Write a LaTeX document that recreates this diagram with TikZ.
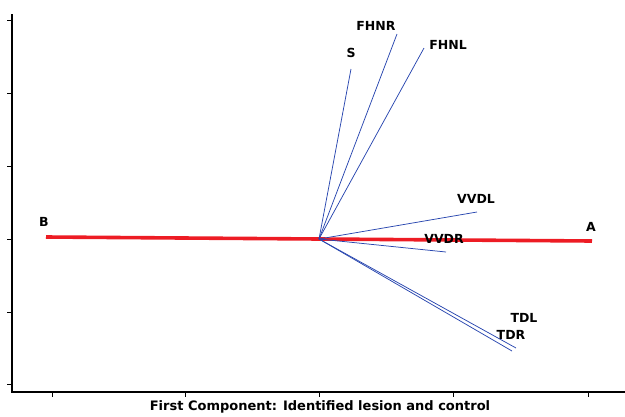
\documentclass[tikz,border=0pt]{standalone}
\usepackage{fontspec}
\setmainfont{DejaVu Sans}
\usetikzlibrary{positioning}

\begin{document}
\begin{tikzpicture}[
    x=1pt, y=-1pt,
 axisline/.style = {line width=1.1pt, black},
  axistick/.style = {line width=0.9pt, black},
  loading/.style = {draw={rgb,255:red,40;green,70;blue,175}, line width=0.75pt},
  groupline/.style = {draw={rgb,255:red,237;green,28;blue,36}, line width=3.6pt},
  varlabel/.style = {font=\fontsize{12.5}{13}\selectfont\bfseries, inner sep=0pt},
  axislabel/.style = {font=\fontsize{13}{14}\selectfont\bfseries, inner sep=0pt}
                    ]
\useasboundingbox (0,0) rectangle (625,416);
% the axes
\coordinate (ytop) at (12,14);
\coordinate (corner) at (12,392);
\coordinate (xend) at (625,392);
\draw[axisline] (ytop) -- (corner) -- (xend);
\foreach \yy in {20,93,166,239,312,384}
    \draw[axistick] (7,\yy) -- (12,\yy);
\foreach \xx in {52,185,319,453,588}
    \draw[axistick] (\xx,392) -- (\xx,397);
\node (xtitle) [axislabel] at (320,407) {First Component: Identified lesion and control};
% the red line between the groups
\coordinate (B) at (46,237);
\coordinate (A) at (592,241);
\draw[groupline] (B) -- (A);
\node (lB) [varlabel] at (44,222) {B};
\node (lA) [varlabel] at (591,227) {A};
% the loadings from the origin
\coordinate (o) at (319,239);
\coordinate (S) at (351,69);
\coordinate (FHNR) at (397,34);
\coordinate (FHNL) at (424,48);
\coordinate (VVDL) at (477,212);
\coordinate (VVDR) at (446,252);
\coordinate (TDL) at (516,348);
\coordinate (TDR) at (512,351);
\foreach \v in {S,FHNR,FHNL,VVDL,VVDR,TDL,TDR}
    \draw[loading] (o) -- (\v);
% the labels of the loadings
\node (lS)    [varlabel] at (351,53)  {S};
\node (lFHNR) [varlabel] at (376,26)  {FHNR};
\node (lFHNL) [varlabel] at (448,45)  {FHNL};
\node (lVVDL) [varlabel] at (476,199) {VVDL};
\node (lVVDR) [varlabel] at (444,239) {VVDR};
\node (lTDL)  [varlabel] at (524,318) {TDL};
\node (lTDR)  [varlabel] at (511,335) {TDR};
\end{tikzpicture}
\end{document}
